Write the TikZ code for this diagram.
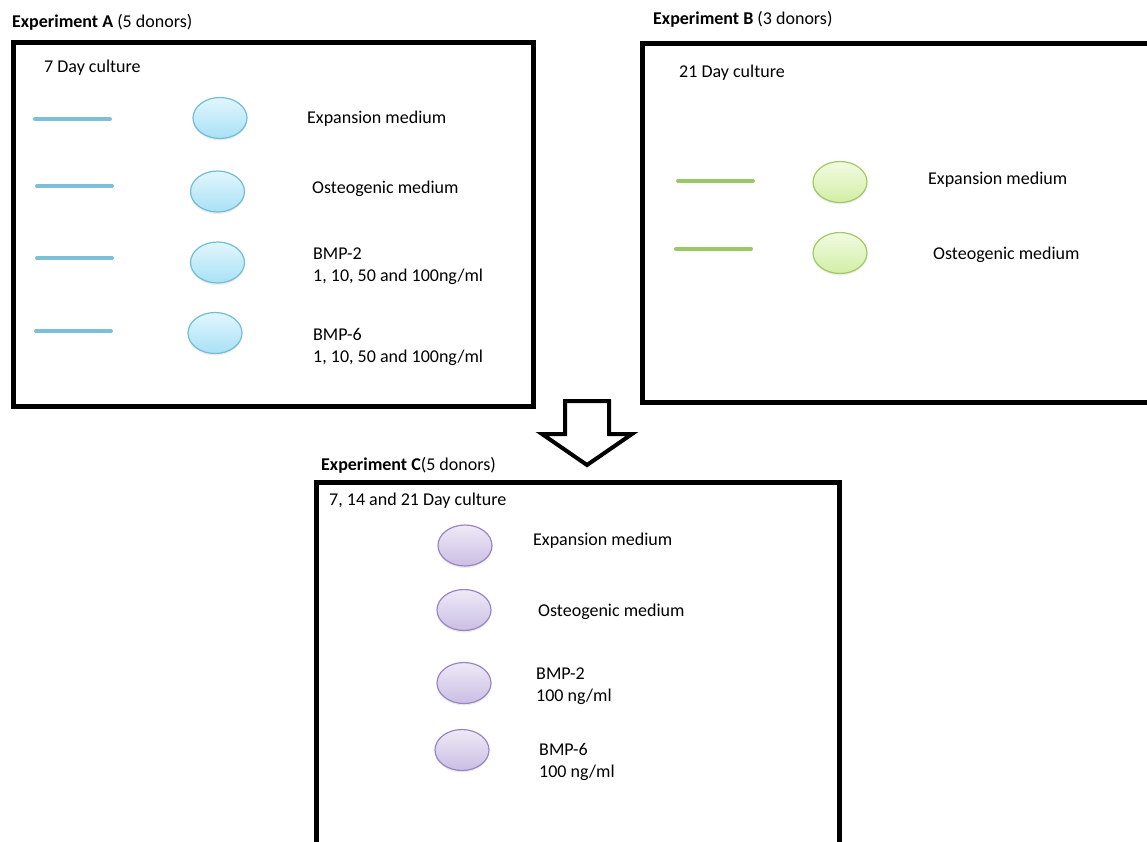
\documentclass[tikz,border=0pt]{standalone}
\usepackage{fontspec}
\setmainfont{Carlito}
\usetikzlibrary{shapes.geometric, shadows, positioning}

\definecolor{blueline}{HTML}{7CBFD6}
\definecolor{blueedge}{HTML}{72BCD6}
\definecolor{bluetop}{HTML}{E2F6FD}
\definecolor{bluebot}{HTML}{A8E1F5}
\definecolor{greenline}{HTML}{9AC864}
\definecolor{greenedge}{HTML}{9DCA64}
\definecolor{greentop}{HTML}{F2FBE2}
\definecolor{greenbot}{HTML}{D2EEA6}
\definecolor{purpleedge}{HTML}{9A85C4}
\definecolor{purpletop}{HTML}{EEEAF7}
\definecolor{purplebot}{HTML}{CBBEE3}

\begin{document}
\begin{tikzpicture}[x=1pt, y=-1pt,
    frame/.style={line width=5pt, line join=miter},
    dish/.style={ellipse, minimum width=54pt, minimum height=41pt, inner sep=0pt, line width=1.2pt,
        drop shadow={opacity=0.15, shadow xshift=0pt, shadow yshift=-2pt}},
    bluedish/.style={dish, draw=blueedge, top color=bluetop, bottom color=bluebot},
    greendish/.style={dish, draw=greenedge, top color=greentop, bottom color=greenbot},
    purpledish/.style={dish, draw=purpleedge, top color=purpletop, bottom color=purplebot},
    flask/.style={line width=4pt, line cap=round},
    txt/.style={anchor=west, inner sep=0pt, align=left, yshift=-2pt, font=\fontsize{18}{22}\selectfont}]

    % Fix the page size
    \useasboundingbox (0,0) rectangle (1147,841);
    \clip (0,0) rectangle (1147,841);

    % Draw experiment A
    \node[txt] (titleA) at (12,20) {\textbf{Experiment A} (5 donors)};
    \draw[frame] (13,42) rectangle (533,406);
    \node[txt] (dayA) at (44,66) {7 Day culture};
    \draw[flask, blueline] (35,119) -- (110,119);
    \draw[flask, blueline] (37,186) -- (112,186);
    \draw[flask, blueline] (37,258) -- (112,258);
    \draw[flask, blueline] (36,331) -- (111,331);
    \node[bluedish] (dishA1) at (220,118) {};
    \node[bluedish] (dishA2) at (217.5,191.5) {};
    \node[bluedish] (dishA3) at (217.5,262.5) {};
    \node[bluedish] (dishA4) at (215,333) {};
    \node[txt] (expA) at (307,117) {Expansion medium};
    \node[txt] (ostA) at (312,187) {Osteogenic medium};
    \node[txt] (bmptwoA) at (313,264) {BMP-2\\1, 10, 50 and 100ng/ml};
    \node[txt] (bmpsixA) at (313,345) {BMP-6\\1, 10, 50 and 100ng/ml};

    % Draw experiment B
    \node[txt] (titleB) at (653,17) {\textbf{Experiment B} (3 donors)};
    \draw[frame] (642,43) rectangle (1170,402);
    \node[txt] (dayB) at (679,71) {21 Day culture};
    \draw[flask, greenline] (678,181) -- (753,181);
    \draw[flask, greenline] (676,249) -- (751,249);
    \node[greendish] (dishB1) at (840,182) {};
    \node[greendish] (dishB2) at (840,253) {};
    \node[txt] (expB) at (928,178) {Expansion medium};
    \node[txt] (ostB) at (933,253) {Osteogenic medium};

    % Draw the block arrow
    \draw[line width=4pt, line join=miter, fill=white] (565,401) -- (609,401) -- (609,434)
        -- (632,434) -- (587,465) -- (542,434) -- (565,434) -- cycle;

    % Draw experiment C
    \node[txt] (titleC) at (321,463) {\textbf{Experiment C}(5 donors)};
    \draw[frame] (316,482) rectangle (839,870);
    \node[txt] (dayC) at (329,499) {7, 14 and 21 Day culture};
    \node[purpledish] (dishC1) at (465,545.5) {};
    \node[purpledish] (dishC2) at (464,610) {};
    \node[purpledish] (dishC3) at (464,683) {};
    \node[purpledish] (dishC4) at (462,750) {};
    \node[txt] (expC) at (533,539) {Expansion medium};
    \node[txt] (ostC) at (538,610) {Osteogenic medium};
    \node[txt] (bmptwoC) at (536,684) {BMP-2\\100 ng/ml};
    \node[txt] (bmpsixC) at (539,760) {BMP-6\\100 ng/ml};

\end{tikzpicture}
\end{document}
